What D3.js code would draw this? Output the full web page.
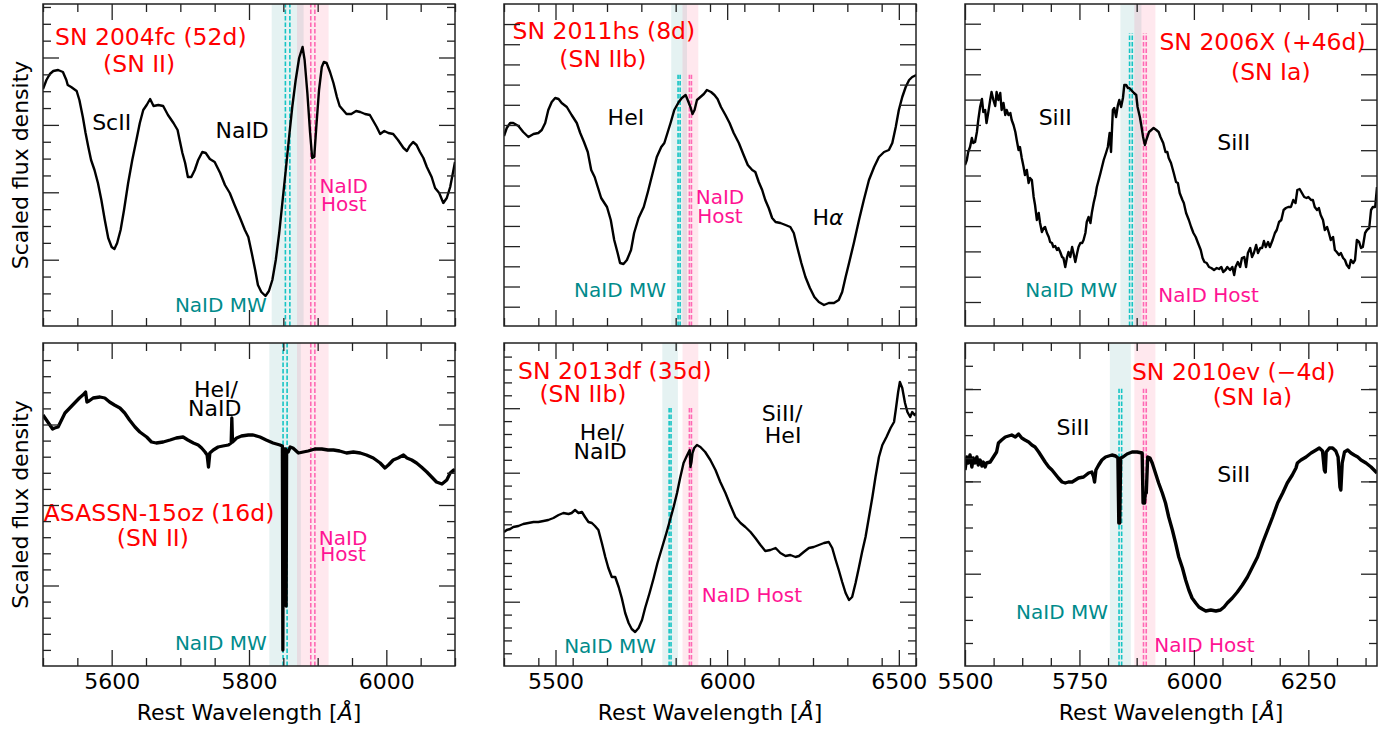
<!DOCTYPE html>
<html>
<head>
<meta charset="utf-8">
<script src="https://cdn.jsdelivr.net/npm/d3@7"></script>
<style>
  body { margin: 0; background: #fff; }
  text { font-family: "DejaVu Sans", sans-serif; }
</style>
</head>
<body>
<div id="chart"></div>
<script>
// ---- spectra: [rest wavelength (A), scaled flux] ----
const sn2004fc = [[5500,2.37],[5505,2.46],[5510,2.52],[5515,2.55],[5522,2.56],[5529,2.54],[5534,2.46],[5536,2.41],[5541,2.39],[5549,2.35],[5553,2.26],[5558,2.09],[5562,1.93],[5566,1.79],[5570,1.66],[5575,1.56],[5580,1.43],[5585,1.26],[5590,1.06],[5595,0.88],[5600,0.79],[5604,0.77],[5608,0.83],[5613,0.96],[5618,1.16],[5624,1.43],[5630,1.66],[5636,1.86],[5641,2.03],[5646,2.16],[5651,2.21],[5656,2.27],[5661,2.20],[5668,2.21],[5675,2.20],[5682,2.11],[5690,2.03],[5696,1.96],[5699,1.86],[5703,1.73],[5707,1.63],[5711,1.49],[5716,1.49],[5721,1.56],[5726,1.66],[5732,1.74],[5737,1.73],[5743,1.67],[5750,1.64],[5758,1.53],[5765,1.41],[5772,1.33],[5779,1.21],[5787,1.08],[5794,0.96],[5799,0.89],[5804,0.73],[5809,0.56],[5813,0.41],[5818,0.34],[5824,0.30],[5829,0.35],[5834,0.46],[5839,0.66],[5844,0.93],[5849,1.26],[5854,1.59],[5859,1.93],[5863,2.19],[5868,2.46],[5873,2.68],[5878,2.79],[5881,2.66],[5885,2.33],[5889,1.93],[5892,1.68],[5895,1.69],[5898,1.99],[5902,2.36],[5906,2.59],[5909,2.64],[5913,2.63],[5918,2.54],[5923,2.43],[5928,2.29],[5932,2.20],[5937,2.16],[5942,2.12],[5949,2.12],[5956,2.15],[5962,2.14],[5969,2.12],[5976,2.11],[5981,2.05],[5986,1.99],[5991,1.92],[5997,1.95],[6003,1.93],[6010,1.92],[6017,1.86],[6025,1.78],[6030,1.75],[6034,1.80],[6039,1.84],[6044,1.81],[6049,1.74],[6054,1.68],[6059,1.59],[6066,1.49],[6071,1.38],[6077,1.33],[6083,1.23],[6088,1.28],[6093,1.39],[6100,1.64]];

const sn2011hs = [[5350,1.90],[5358,1.98],[5368,2.03],[5377,2.03],[5392,2.00],[5406,1.94],[5421,1.89],[5436,1.92],[5450,1.93],[5460,1.96],[5470,2.03],[5479,2.16],[5489,2.24],[5499,2.28],[5509,2.27],[5518,2.23],[5533,2.19],[5547,2.11],[5562,2.03],[5572,1.93],[5583,1.84],[5594,1.74],[5604,1.56],[5614,1.49],[5623,1.39],[5633,1.28],[5650,1.19],[5661,1.06],[5671,0.86],[5681,0.73],[5688,0.63],[5698,0.62],[5708,0.66],[5720,0.76],[5729,0.93],[5742,1.08],[5757,1.19],[5769,1.34],[5783,1.53],[5795,1.69],[5808,1.79],[5817,1.83],[5827,1.94],[5836,2.04],[5846,2.16],[5859,2.24],[5868,2.28],[5879,2.31],[5885,2.26],[5893,2.19],[5899,2.12],[5905,2.16],[5912,2.26],[5922,2.29],[5932,2.32],[5941,2.36],[5953,2.34],[5963,2.31],[5972,2.27],[5982,2.19],[5995,2.11],[6007,2.03],[6019,1.93],[6034,1.83],[6048,1.71],[6060,1.61],[6073,1.56],[6082,1.54],[6092,1.44],[6102,1.36],[6111,1.26],[6121,1.18],[6131,1.08],[6141,1.04],[6155,1.03],[6170,1.01],[6184,0.99],[6194,0.93],[6204,0.79],[6216,0.63],[6228,0.49],[6241,0.38],[6254,0.29],[6267,0.24],[6282,0.21],[6296,0.23],[6311,0.23],[6325,0.26],[6335,0.34],[6345,0.49],[6355,0.63],[6369,0.83],[6384,1.06],[6398,1.26],[6413,1.46],[6428,1.59],[6442,1.69],[6457,1.74],[6471,1.76],[6481,1.83],[6491,1.99],[6500,2.16],[6510,2.29],[6520,2.39],[6530,2.46],[6539,2.49],[6551,2.51]];

const sn2006x = [[5500,1.61],[5504,1.66],[5507,1.74],[5511,1.79],[5515,1.88],[5518,1.83],[5522,1.84],[5526,1.94],[5529,2.06],[5533,2.19],[5537,2.27],[5540,2.14],[5544,2.16],[5547,2.03],[5551,2.14],[5555,2.26],[5558,2.34],[5562,2.26],[5566,2.20],[5569,2.34],[5573,2.26],[5577,2.33],[5580,2.16],[5584,2.23],[5588,2.11],[5591,2.16],[5595,2.11],[5599,2.13],[5602,2.06],[5606,2.01],[5610,1.94],[5613,1.86],[5617,1.76],[5620,1.79],[5624,1.68],[5628,1.59],[5631,1.51],[5635,1.56],[5639,1.43],[5642,1.48],[5646,1.46],[5650,1.29],[5653,1.21],[5657,1.06],[5661,1.13],[5664,1.03],[5668,0.94],[5672,0.98],[5675,0.99],[5679,0.93],[5683,0.89],[5686,0.84],[5690,0.83],[5693,0.79],[5697,0.80],[5701,0.76],[5704,0.78],[5708,0.74],[5712,0.69],[5715,0.68],[5719,0.59],[5723,0.69],[5726,0.74],[5730,0.69],[5734,0.79],[5737,0.73],[5741,0.64],[5745,0.73],[5748,0.79],[5752,0.83],[5756,0.83],[5759,0.86],[5763,0.93],[5766,1.04],[5770,1.09],[5774,1.03],[5777,1.13],[5781,1.23],[5785,1.31],[5788,1.39],[5796,1.53],[5803,1.66],[5808,1.73],[5812,1.79],[5816,1.93],[5819,1.74],[5823,2.16],[5826,2.18],[5830,2.09],[5834,2.21],[5837,2.26],[5841,2.19],[5845,2.28],[5848,2.41],[5852,2.41],[5856,2.38],[5859,2.38],[5863,2.36],[5869,2.33],[5874,2.31],[5877,2.19],[5882,2.09],[5885,2.01],[5889,1.89],[5893,1.81],[5896,1.86],[5902,1.94],[5907,1.96],[5912,1.98],[5918,1.96],[5923,1.94],[5927,1.89],[5933,1.83],[5938,1.74],[5942,1.74],[5945,1.68],[5950,1.63],[5956,1.53],[5961,1.44],[5965,1.43],[5969,1.33],[5975,1.26],[5978,1.23],[5983,1.13],[5989,1.06],[5994,0.99],[5999,0.93],[6004,0.89],[6009,0.83],[6015,0.76],[6019,0.68],[6023,0.64],[6028,0.63],[6033,0.59],[6038,0.58],[6044,0.56],[6050,0.58],[6055,0.57],[6060,0.59],[6064,0.54],[6069,0.56],[6073,0.59],[6079,0.56],[6084,0.59],[6088,0.51],[6091,0.59],[6096,0.64],[6101,0.59],[6105,0.68],[6110,0.69],[6114,0.59],[6118,0.73],[6123,0.78],[6127,0.69],[6131,0.73],[6136,0.81],[6140,0.73],[6145,0.78],[6149,0.78],[6153,0.85],[6157,0.79],[6162,0.84],[6166,0.79],[6172,0.86],[6177,0.93],[6181,0.96],[6186,1.04],[6191,1.06],[6196,1.16],[6201,1.18],[6206,1.19],[6212,1.19],[6217,1.26],[6222,1.23],[6226,1.36],[6231,1.37],[6236,1.33],[6241,1.29],[6246,1.28],[6250,1.29],[6256,1.26],[6260,1.26],[6264,1.19],[6269,1.16],[6273,1.18],[6277,1.11],[6282,1.06],[6286,0.96],[6291,0.99],[6295,0.93],[6299,0.86],[6304,0.89],[6308,0.76],[6312,0.74],[6317,0.71],[6321,0.73],[6326,0.68],[6330,0.66],[6334,0.61],[6339,0.58],[6343,0.66],[6348,0.63],[6352,0.66],[6356,0.86],[6361,0.84],[6365,0.78],[6369,0.79],[6374,0.93],[6378,0.96],[6383,0.98],[6387,1.16],[6391,1.19],[6396,1.19],[6400,1.39]];

const asassn15oz = [[5500,2.51],[5505,2.46],[5510,2.41],[5514,2.37],[5517,2.38],[5522,2.39],[5527,2.46],[5532,2.53],[5539,2.58],[5546,2.63],[5553,2.68],[5558,2.71],[5562,2.74],[5564,2.64],[5567,2.65],[5573,2.68],[5583,2.69],[5590,2.68],[5597,2.64],[5604,2.61],[5612,2.58],[5619,2.53],[5626,2.46],[5634,2.39],[5641,2.34],[5651,2.29],[5658,2.24],[5665,2.23],[5675,2.24],[5685,2.26],[5694,2.28],[5704,2.29],[5711,2.26],[5719,2.23],[5726,2.21],[5731,2.18],[5736,2.14],[5739,2.11],[5741,1.99],[5743,2.13],[5748,2.16],[5755,2.19],[5762,2.20],[5770,2.21],[5774,2.23],[5775,2.48],[5776,2.24],[5782,2.28],[5789,2.30],[5799,2.31],[5806,2.31],[5816,2.29],[5825,2.26],[5835,2.23],[5845,2.21],[5848.6,2.20],[5849.3,0.16],[5850.0,2.17],[5853.4,2.17],[5854.1,0.60],[5854.8,2.15],[5857,2.14],[5860,2.19],[5864,2.18],[5872,2.13],[5879,2.14],[5886,2.15],[5896,2.17],[5906,2.17],[5915,2.16],[5923,2.16],[5932,2.15],[5942,2.13],[5952,2.14],[5962,2.13],[5971,2.11],[5981,2.08],[5991,2.03],[5998,1.98],[6003,2.01],[6010,2.06],[6017,2.08],[6025,2.11],[6030,2.08],[6037,2.06],[6044,2.03],[6051,1.99],[6059,1.94],[6066,1.89],[6073,1.84],[6081,1.82],[6088,1.86],[6093,1.93],[6098,1.96],[6100,1.94]];

const sn2013df = [[5350,1.34],[5358,1.36],[5368,1.37],[5377,1.39],[5392,1.40],[5406,1.42],[5421,1.43],[5436,1.44],[5450,1.44],[5465,1.45],[5479,1.46],[5494,1.48],[5509,1.51],[5523,1.53],[5538,1.52],[5547,1.53],[5557,1.56],[5567,1.53],[5577,1.54],[5586,1.49],[5596,1.44],[5606,1.43],[5615,1.40],[5625,1.36],[5635,1.23],[5645,1.09],[5654,0.98],[5664,0.89],[5674,0.89],[5684,0.79],[5693,0.68],[5703,0.53],[5713,0.43],[5722,0.37],[5732,0.34],[5742,0.38],[5752,0.46],[5761,0.58],[5774,0.73],[5786,0.88],[5797,1.03],[5810,1.18],[5823,1.33],[5832,1.44],[5844,1.59],[5854,1.73],[5863,1.88],[5873,2.03],[5881,2.09],[5888,2.14],[5891,2.16],[5893,1.99],[5896,2.04],[5899,2.13],[5904,2.18],[5912,2.21],[5922,2.19],[5936,2.14],[5951,2.06],[5966,1.96],[5980,1.84],[5995,1.73],[6009,1.61],[6024,1.49],[6039,1.43],[6053,1.39],[6068,1.34],[6082,1.28],[6097,1.21],[6111,1.15],[6126,1.16],[6141,1.18],[6155,1.13],[6170,1.10],[6184,1.11],[6199,1.09],[6209,1.10],[6223,1.14],[6238,1.18],[6252,1.19],[6267,1.21],[6282,1.23],[6296,1.24],[6306,1.18],[6316,1.06],[6325,0.96],[6335,0.84],[6345,0.73],[6355,0.66],[6364,0.69],[6374,0.83],[6384,0.99],[6393,1.14],[6403,1.29],[6413,1.49],[6423,1.69],[6432,1.89],[6442,2.09],[6452,2.21],[6464,2.29],[6476,2.38],[6486,2.44],[6491,2.56],[6498,2.74],[6503,2.84],[6510,2.78],[6518,2.63],[6525,2.54],[6533,2.49],[6539,2.54],[6546,2.51],[6551,2.53]];

const sn2010ev = [[5500,1.96],[5504,2.09],[5507,2.03],[5511,2.11],[5515,1.99],[5518,2.08],[5522,2.03],[5526,2.09],[5529,2.01],[5533,2.06],[5537,2.00],[5540,2.04],[5544,1.99],[5547,2.03],[5555,2.04],[5562,2.09],[5569,2.14],[5573,2.23],[5580,2.26],[5588,2.29],[5595,2.30],[5602,2.31],[5610,2.29],[5617,2.32],[5624,2.28],[5631,2.26],[5639,2.24],[5646,2.21],[5653,2.19],[5661,2.14],[5668,2.09],[5675,2.04],[5683,1.99],[5690,1.96],[5697,1.92],[5704,1.88],[5712,1.84],[5719,1.83],[5726,1.84],[5734,1.84],[5741,1.86],[5748,1.88],[5759,1.89],[5770,1.93],[5777,1.94],[5781,1.89],[5783,1.84],[5786,1.96],[5792,2.01],[5799,2.06],[5807,2.09],[5814,2.10],[5821,2.11],[5829,2.10],[5834,2.08],[5836,1.43],[5838,1.43],[5840,2.08],[5845,2.09],[5854,2.12],[5865,2.14],[5876,2.14],[5887,2.13],[5889,1.63],[5892,1.63],[5894,1.73],[5896,1.73],[5899,2.09],[5904,2.08],[5909,2.03],[5916,1.93],[5923,1.83],[5931,1.73],[5938,1.63],[5945,1.49],[5953,1.36],[5960,1.23],[5967,1.09],[5975,0.98],[5982,0.86],[5989,0.76],[5996,0.68],[6004,0.63],[6011,0.59],[6018,0.57],[6026,0.55],[6037,0.56],[6048,0.55],[6058,0.56],[6066,0.59],[6073,0.63],[6084,0.68],[6095,0.74],[6106,0.81],[6117,0.89],[6128,0.99],[6139,1.09],[6150,1.23],[6161,1.36],[6172,1.49],[6183,1.63],[6194,1.73],[6204,1.83],[6215,1.91],[6223,1.98],[6226,2.03],[6234,2.06],[6245,2.09],[6256,2.13],[6267,2.16],[6274,2.18],[6281,2.15],[6285,1.96],[6287,1.94],[6289,2.14],[6296,2.18],[6303,2.18],[6310,2.15],[6315,2.09],[6319,1.79],[6321,1.76],[6324,2.03],[6329,2.14],[6336,2.16],[6343,2.13],[6350,2.11],[6358,2.09],[6365,2.06],[6376,2.03],[6387,1.99],[6400,1.93]];

// ---- axes ranges and ticks (per column) ----
const xDomains = [[5500, 6100], [5350, 6550], [5500, 6400]];
const xMajorStep = [200, 500, 250];
const xMinorStep = [50, 100, 62.5];

// Na I D lines: host rest frame, and Milky Way lines moved into each host's rest frame
const hostNaD = [5889.95, 5895.92];
const mwNaD = [[5853.0, 5859.5], [5857.0, 5863.0], [5859.5, 5865.4],
               [5849.6, 5855.5], [5831.0, 5836.5], [5836.5, 5842.2]];
const bandHalfWidth = 20;

// ---- panels ----
const panels = [
  { row: 0, col: 0, data: sn2004fc, mw: mwNaD[0], dashTop: 1.0, lw: 2.4,
    yTick: { base: 0.663, step: 0.674, minor: 0.1685 },
    titles: [["SN 2004fc (52d)", 5657, 2.81], ["(SN II)", 5640, 2.54]],
    lines: [["ScII", 5600, 1.96], ["NaID", 5790, 1.88]],
    host: [["NaID", 5938, 1.33], ["Host", 5938, 1.15]],
    mwText: [["NaID MW", 5759, 0.14]] },
  { row: 0, col: 1, data: sn2011hs, mw: mwNaD[1], dashTop: 0.78, lw: 2.4,
    yTick: { base: 0.193, step: 0.2019, minor: 0 },
    titles: [["SN 2011hs (8d)", 5641, 2.87], ["(SN IIb)", 5638, 2.59]],
    lines: [["HeI", 5705, 2.01], ["Hα", 6294, 1.01]],
    host: [["NaID", 5979, 1.22], ["Host", 5979, 1.03]],
    mwText: [["NaID MW", 5688, 0.29]] },
  { row: 0, col: 2, data: sn2006x, mw: mwNaD[2], dashTop: 0.91, lw: 2.4,
    yTick: { base: 0.24, step: 0.253, minor: 0 },
    titles: [["SN 2006X (+46d)", 6150, 2.76], ["(SN Ia)", 6168, 2.46]],
    lines: [["SiII", 5697, 2.01], ["SiII", 6087, 1.76]],
    host: [["NaID Host", 6032, 0.24]],
    mwText: [["NaID MW", 5732, 0.29]] },
  { row: 1, col: 0, data: asassn15oz, mw: mwNaD[3], dashTop: 1.0, lw: 3.3,
    yTick: { base: 0.805, step: 0.805, minor: 0.161 },
    titles: [["ASASSN-15oz (16d)", 5669, 1.45], ["(SN II)", 5660, 1.20]],
    lines: [["HeI/", 5752, 2.69], ["NaID", 5750, 2.50]],
    host: [["NaID", 5937, 1.21], ["Host", 5937, 1.05]],
    mwText: [["NaID MW", 5759, 0.16]] },
  { row: 1, col: 1, data: sn2013df, mw: mwNaD[4], dashTop: 0.80, lw: 2.4,
    yTick: { base: 0.643, step: 0.645, minor: 0.129 },
    titles: [["SN 2013df (35d)", 5673, 2.87], ["(SN IIb)", 5580, 2.64]],
    lines: [["HeI/", 5635, 2.26], ["NaID", 5630, 2.07], ["SiII/", 6160, 2.45], ["HeI", 6163, 2.23]],
    host: [["NaID Host", 6072, 0.64]],
    mwText: [["NaID MW", 5659, 0.13]] },
  { row: 1, col: 2, data: sn2010ev, mw: mwNaD[5], dashTop: 0.858, lw: 3.4,
    yTick: { base: 0.923, step: 0.923, minor: 0.231 },
    titles: [["SN 2010ev (\u22124d)", 6087, 2.86], ["(SN Ia)", 6128, 2.61]],
    lines: [["SiII", 5736, 2.31], ["SiII", 6087, 1.84]],
    host: [["NaID Host", 6023, 0.14]],
    mwText: [["NaID MW", 5712, 0.47]] }
];

// ---- layout ----
const width = 1395, height = 731;
const colLeft = [43, 504, 965];
const panelW = 412;
const rowTop = [4, 343];
const panelH = [322, 323];

const svg = d3.select("#chart").append("svg")
  .attr("width", width)
  .attr("height", height)
  .style("background", "#fff");

// write a string, putting alpha and the angstrom sign in italics (mathtext look)
function addText(sel, str) {
  const parts = str.split(/([αÅ])/);
  parts.forEach(function (s) {
    if (!s) return;
    const t = sel.append("tspan").text(s);
    if (s === "α" || s === "Å") t.style("font-style", "italic");
  });
  return sel;
}

panels.forEach(function (p, i) {
  const w = panelW, h = panelH[p.row];
  const xDom = xDomains[p.col];
  const g = svg.append("g")
    .attr("transform", "translate(" + colLeft[p.col] + "," + rowTop[p.row] + ")");

  const x = d3.scaleLinear().domain(xDom).range([0, w]);
  const y = d3.scaleLinear().domain([0, h / 100]).range([h, 0]);

  g.append("clipPath").attr("id", "clip" + i)
    .append("rect").attr("width", w).attr("height", h);
  const inner = g.append("g").attr("clip-path", "url(#clip" + i + ")");

  // shaded windows round the MW and host doublets
  const bands = [
    { lo: d3.min(p.mw) - bandHalfWidth, hi: d3.max(p.mw) + bandHalfWidth, fill: "rgba(0,128,128,0.10)" },
    { lo: hostNaD[0] - bandHalfWidth, hi: hostNaD[1] + bandHalfWidth, fill: "rgba(255,30,90,0.10)" }
  ];
  inner.selectAll("rect.band").data(bands).enter().append("rect")
    .attr("class", "band")
    .attr("x", d => x(d.lo))
    .attr("width", d => x(d.hi) - x(d.lo))
    .attr("y", 0)
    .attr("height", h)
    .attr("fill", d => d.fill);

  // dashed doublet markers
  const marks = p.mw.map(v => ({ v: v, c: "#16c4c4" }))
    .concat(hostNaD.map(v => ({ v: v, c: "#ff69b4" })));
  inner.selectAll("line.nad").data(marks).enter().append("line")
    .attr("class", "nad")
    .attr("x1", d => x(d.v)).attr("x2", d => x(d.v))
    .attr("y1", h).attr("y2", h * (1 - p.dashTop))
    .attr("stroke", d => d.c)
    .attr("stroke-width", 1.6)
    .attr("stroke-dasharray", "4.5,2");

  // spectrum
  const line = d3.line().x(d => x(d[0])).y(d => y(d[1]));
  inner.append("path")
    .datum(p.data)
    .attr("d", line)
    .attr("fill", "none")
    .attr("stroke", "#000")
    .attr("stroke-width", p.lw)
    .attr("stroke-linejoin", "round");

  // annotations
  function put(list, color, size) {
    list.forEach(function (a) {
      const t = g.append("text")
        .attr("x", x(a[1]))
        .attr("y", y(a[2]))
        .attr("text-anchor", "middle")
        .attr("fill", color)
        .style("font-size", size + "px");
      addText(t, a[0]);
    });
  }
  put(p.titles, "#ff0000", 23.5);
  put(p.lines, "#000000", 22);
  put(p.host, "#ff1493", 20);
  put(p.mwText, "#008b8b", 20);

  // ticks (inward, on all four sides)
  const eps = 1e-6;
  const xMajor = d3.range(Math.ceil(xDom[0] / xMajorStep[p.col]) * xMajorStep[p.col], xDom[1] + eps, xMajorStep[p.col]);
  const xMinor = d3.range(xDom[0], xDom[1] + eps, xMinorStep[p.col])
    .filter(v => Math.abs(v / xMajorStep[p.col] - Math.round(v / xMajorStep[p.col])) > 1e-6);
  const yMax = h / 100;
  const yt = p.yTick;
  let yMajor = [], yMinor = [];
  for (let v = yt.base % yt.step; v < yMax - 0.02; v += yt.step) if (v > 0.02) yMajor.push(v);
  if (yt.minor > 0) {
    for (let v = yt.base % yt.minor; v < yMax - 0.02; v += yt.minor) {
      if (v > 0.02 && !yMajor.some(m => Math.abs(m - v) < 1e-3)) yMinor.push(v);
    }
  }

  const major = 16, minor = 8;
  const showLabels = p.row === 1;

  const axes = [
    g.append("g").attr("transform", "translate(0," + h + ")")
      .call(d3.axisBottom(x).tickValues(xMajor).tickSize(-major).tickPadding(7.5)
        .tickFormat(showLabels ? d3.format("d") : "")),
    g.append("g").attr("transform", "translate(0," + h + ")")
      .call(d3.axisBottom(x).tickValues(xMinor).tickSize(-minor).tickFormat("")),
    g.append("g").call(d3.axisTop(x).tickValues(xMajor).tickSize(-major).tickFormat("")),
    g.append("g").call(d3.axisTop(x).tickValues(xMinor).tickSize(-minor).tickFormat("")),
    g.append("g").call(d3.axisLeft(y).tickValues(yMajor).tickSize(-major).tickFormat("")),
    g.append("g").call(d3.axisLeft(y).tickValues(yMinor).tickSize(-minor).tickFormat("")),
    g.append("g").attr("transform", "translate(" + w + ",0)")
      .call(d3.axisRight(y).tickValues(yMajor).tickSize(-major).tickFormat("")),
    g.append("g").attr("transform", "translate(" + w + ",0)")
      .call(d3.axisRight(y).tickValues(yMinor).tickSize(-minor).tickFormat(""))
  ];
  axes.forEach(function (a) {
    a.select(".domain").remove();
    a.selectAll(".tick line").attr("stroke", "#222").attr("stroke-width", 1.3);
    a.selectAll(".tick text")
      .attr("fill", "#000")
      .style("font-size", "22px")
      .style("font-family", "'DejaVu Sans', sans-serif");
  });

  // frame
  g.append("rect")
    .attr("width", w).attr("height", h)
    .attr("fill", "none")
    .attr("stroke", "#222")
    .attr("stroke-width", 1.5);

  // axis titles
  if (p.col === 0) {
    svg.append("text")
      .attr("transform", "translate(28," + (rowTop[p.row] + h / 2) + ") rotate(-90)")
      .attr("text-anchor", "middle")
      .style("font-size", "22px")
      .text("Scaled flux density");
  }
  if (p.row === 1) {
    const t = svg.append("text")
      .attr("x", colLeft[p.col] + w / 2)
      .attr("y", 720)
      .attr("text-anchor", "middle")
      .style("font-size", "22px");
    addText(t, "Rest Wavelength [Å]");
  }
});
</script>
</body>
</html>
